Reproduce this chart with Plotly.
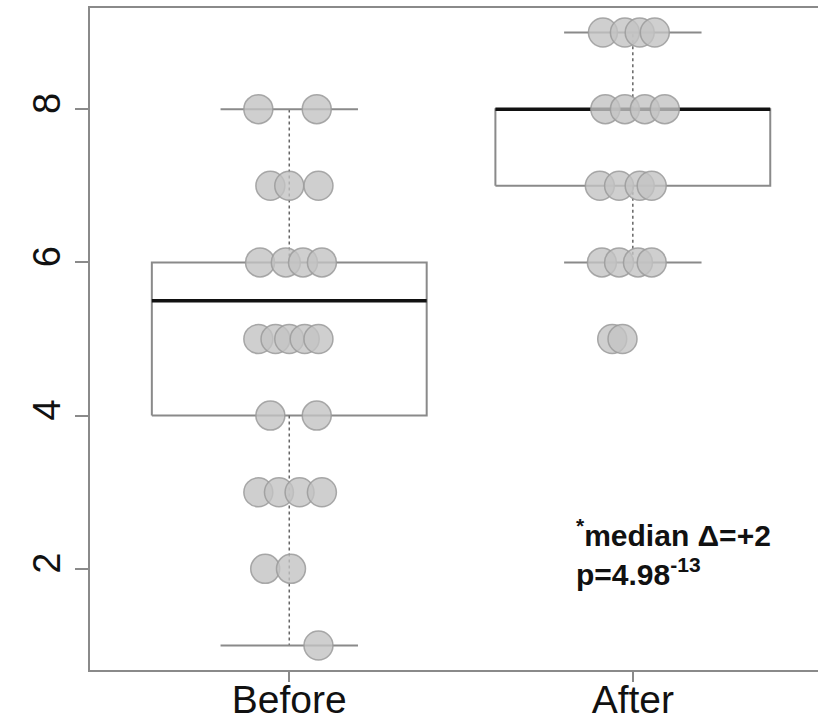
import plotly.graph_objects as go

# ---- data ----
categories = ["Before", "After"]
positions = [1, 2]
q1 = [4, 7]
medians = [5.5, 8]
q3 = [6, 8]
whisker_lo = [1, 6]
whisker_hi = [8, 9]

before_y = [8, 8, 7, 7, 7, 6, 6, 6, 6, 5, 5, 5, 5, 5, 4, 4, 3, 3, 3, 3, 2, 2, 1]
before_dx = [-0.09, 0.08, -0.055, 0.0, 0.085, -0.085, -0.01, 0.04, 0.095,
             -0.09, -0.04, 0.0, 0.045, 0.085, -0.055, 0.08,
             -0.09, -0.03, 0.03, 0.095, -0.07, 0.005, 0.085]
after_y = [9, 9, 9, 9, 8, 8, 8, 8, 7, 7, 7, 7, 6, 6, 6, 6, 5, 5]
after_dx = [-0.087, -0.023, 0.02, 0.064, -0.08, -0.023, 0.035, 0.093,
            -0.096, -0.04, 0.02, 0.055, -0.09, -0.04, 0.015, 0.055,
            -0.06, -0.03]

y_ticks = [2, 4, 6, 8]
annot_text = "<sup>*</sup>median Δ=+2<br>p=4.98<sup>-13</sup>"

# ---- styling ----
BOX_W = 0.8
CAP_W = 0.4
GRAY = "#8a8a8a"
FONT = "Liberation Sans, Arial, sans-serif"

fig = go.Figure()

for i, p in enumerate(positions):
    l, r = p - BOX_W / 2, p + BOX_W / 2
    # box outline
    fig.add_trace(go.Scatter(x=[l, r, r, l, l], y=[q1[i], q1[i], q3[i], q3[i], q1[i]],
                             mode="lines", line=dict(color=GRAY, width=2),
                             hoverinfo="skip", showlegend=False))
    # whiskers (dashed)
    fig.add_trace(go.Scatter(x=[p, p, None, p, p],
                             y=[q3[i], whisker_hi[i], None, q1[i], whisker_lo[i]],
                             mode="lines", line=dict(color="#666666", width=1.5, dash="3px,3px"),
                             hoverinfo="skip", showlegend=False))
    # staples
    cl, cr = p - CAP_W / 2, p + CAP_W / 2
    fig.add_trace(go.Scatter(x=[cl, cr, None, cl, cr],
                             y=[whisker_hi[i], whisker_hi[i], None, whisker_lo[i], whisker_lo[i]],
                             mode="lines", line=dict(color=GRAY, width=2),
                             hoverinfo="skip", showlegend=False))
    # median
    fig.add_trace(go.Scatter(x=[l, r], y=[medians[i], medians[i]],
                             mode="lines", line=dict(color="#111111", width=3.5),
                             hoverinfo="skip", showlegend=False))

groups = [(positions[0], before_y, before_dx), (positions[1], after_y, after_dx)]
for p, ys, dxs in groups:
    fig.add_trace(go.Scatter(x=[p + d for d in dxs], y=ys, mode="markers",
                             marker=dict(size=29, color="rgba(195,195,195,0.8)",
                                         line=dict(color="rgba(155,155,155,0.85)", width=1.5)),
                             hoverinfo="skip", showlegend=False))

fig.add_annotation(x=1.83, y=2.21, xref="x", yref="y", text=annot_text, showarrow=False,
                   xanchor="left", yanchor="middle", align="left",
                   font=dict(family=FONT, size=30, color="#111111", weight="bold"))

fig.update_layout(
    width=818, height=722,
    margin=dict(l=90, r=0, t=8, b=52),
    paper_bgcolor="white", plot_bgcolor="white",
    showlegend=False,
    xaxis=dict(range=[0.42, 2.539], tickvals=positions, ticktext=categories,
               showgrid=False, zeroline=False, showline=True, mirror=True,
               linecolor=GRAY, linewidth=2, ticks="outside", ticklen=10,
               tickcolor=GRAY, tickwidth=1.5, automargin=False,
               ticklabelstandoff=-16,
               tickfont=dict(family=FONT, size=39, color="#111111")),
    yaxis=dict(range=[0.68, 9.32], tickvals=y_ticks, showgrid=False, zeroline=False,
               showline=True, mirror=False, linecolor=GRAY, linewidth=2,
               ticks="outside", ticklen=13, tickcolor=GRAY, tickwidth=1.5,
               tickangle=-90, automargin=False,
               tickfont=dict(family=FONT, size=38, color="#111111")),
)

fig.write_html("out.html")
